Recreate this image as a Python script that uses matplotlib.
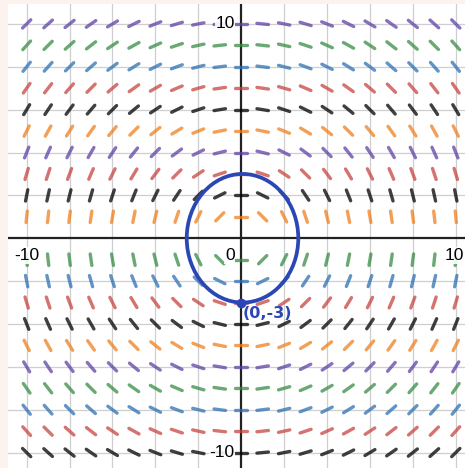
import matplotlib
matplotlib.use("Agg")
import matplotlib.pyplot as plt
import numpy as np
from matplotlib.patches import Ellipse
from matplotlib.collections import LineCollection

# slope field for dy/dx = -x/y, sampled on the integer lattice
x_vals = list(range(-10, 11))
y_vals = [10, 9, 8, 7, 6, 5, 4, 3, 2, 1,
          -1, -2, -3, -4, -5, -6, -7, -8, -9, -10]
row_colors = ["#6042a6", "#388c46", "#2d70b3", "#c74440", "#000000",
              "#f0801e", "#6042a6", "#c74440", "#000000", "#f0801e",
              "#388c46", "#2d70b3", "#c74440", "#000000", "#f0801e",
              "#6042a6", "#388c46", "#2d70b3", "#c74440", "#000000"]

# hand drawn solution curve through (0,-3)
curve_center = (0.06, 0.0)
curve_half_w = 2.6
curve_half_h = 3.0
point = (0, -3)
point_label = "(0,-3)"

axis_ticks = [-10, 10]
grid_step = 2
xlim = (-10.87, 10.43)
ylim = (-10.72, 10.93)

half_len = 0.27
ink = "#2b47b5"


def main():
    fig = plt.figure(figsize=(4.65, 4.68), dpi=100)
    fig.patch.set_facecolor("#fdf3ee")
    ax = fig.add_axes((8 / 465, 0, 457 / 465, 464 / 468))
    ax.set_facecolor("white")
    ax.set_xlim(*xlim)
    ax.set_ylim(*ylim)
    for s in ax.spines.values():
        s.set_visible(False)
    ax.set_xticks([])
    ax.set_yticks([])

    for g in range(-10, 11, grid_step):
        if g == 0:
            continue
        ax.axvline(g, color="#cfcfcf", lw=0.9, zorder=0)
        ax.axhline(g, color="#cfcfcf", lw=0.9, zorder=0)
    ax.axhline(0, color="#222222", lw=1.6, zorder=1)
    ax.axvline(0, color="#222222", lw=1.6, zorder=1)

    for y, c in zip(y_vals, row_colors):
        segs = []
        for x in x_vals:
            ang = np.arctan(-x / y)
            dx, dy = half_len * np.cos(ang), half_len * np.sin(ang)
            segs.append([(x - dx, y - dy), (x + dx, y + dy)])
        lc = LineCollection(segs, colors=c, linewidths=2.4, alpha=0.75,
                            capstyle="round", zorder=2)
        ax.add_collection(lc)

    font = dict(family=["Liberation Sans", "DejaVu Sans"], fontsize=12.5,
                color="black", zorder=4)
    box = dict(facecolor="white", edgecolor="none", pad=0.5, alpha=0.9)
    ax.text(-0.3, axis_ticks[1], "10", ha="right", va="center", bbox=box, **font)
    ax.text(-0.3, axis_ticks[0], "-10", ha="right", va="center", bbox=box, **font)
    ax.text(axis_ticks[0], -0.45, "-10", ha="center", va="top", bbox=box, **font)
    ax.text(xlim[1] - 0.05, -0.45, "10", ha="right", va="top", bbox=box, **font)
    ax.text(-0.3, -0.45, "0", ha="right", va="top", bbox=box, **font)

    ax.add_patch(Ellipse(curve_center, 2 * curve_half_w, 2 * curve_half_h,
                         fill=False, edgecolor=ink, lw=2.7, zorder=5))
    ax.plot(*point, "o", color=ink, ms=6, zorder=6)
    ax.text(point[0] + 0.05, point[1] - 0.15, point_label, color=ink,
            fontsize=11.5, fontweight="bold", ha="left", va="top", zorder=6)

    fig.savefig("out.png", dpi=100, facecolor=fig.get_facecolor())
    plt.close(fig)


if __name__ == "__main__":
    main()
